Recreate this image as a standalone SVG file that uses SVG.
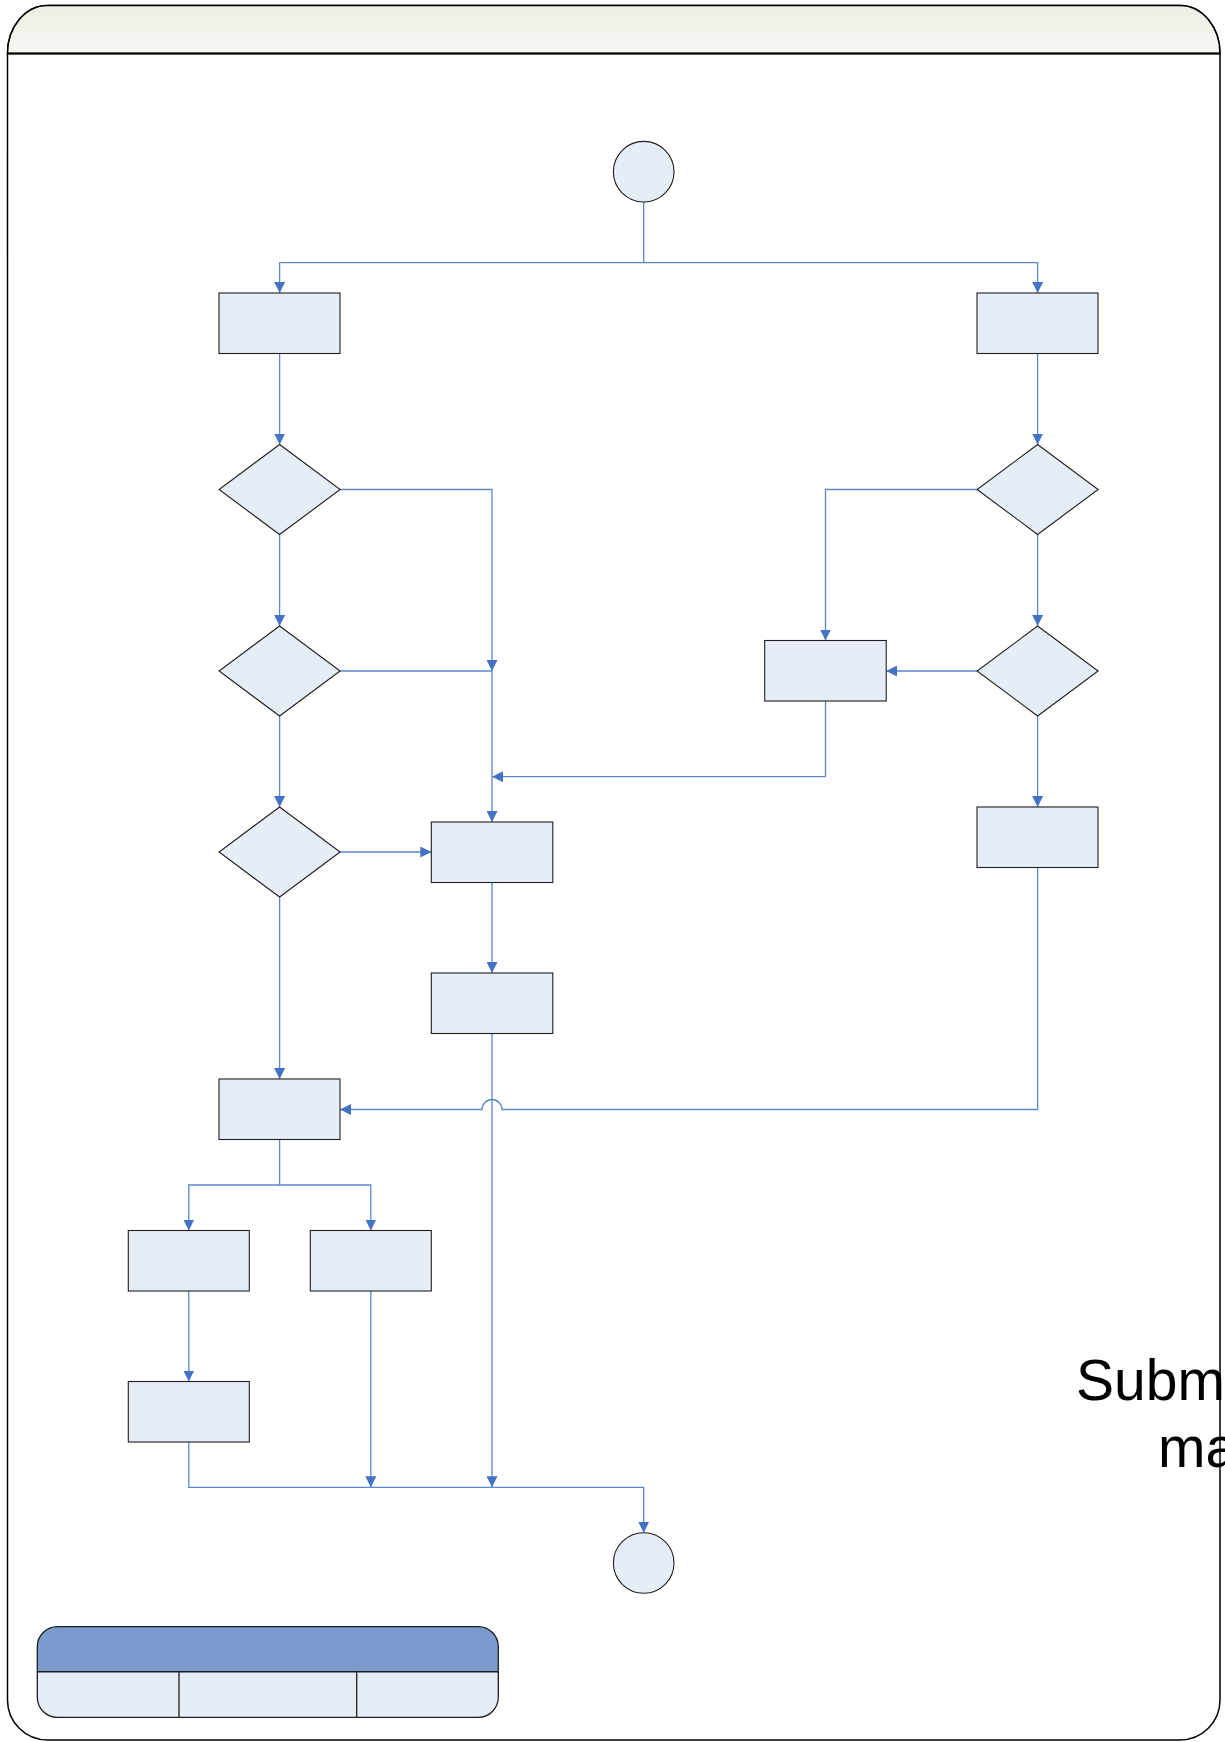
<svg xmlns="http://www.w3.org/2000/svg" width="1225" height="1742" viewBox="0 0 1225 1742">
  <defs>
    <linearGradient id="hdrGrad" x1="0" y1="0" x2="0" y2="1">
      <stop offset="0" stop-color="#ECEDE3"/>
      <stop offset="1" stop-color="#F8F8F4"/>
    </linearGradient>
    <marker id="arrow" viewBox="0 0 10 10" refX="10" refY="5" markerUnits="userSpaceOnUse" markerWidth="11" markerHeight="11" orient="auto">
      <path d="M0,0 L10,5 L0,10 z" fill="#4472C4"/>
    </marker>
    <style>
      .node { fill: #E7EDF7; stroke: #1E1E1E; stroke-width: 1.1; }
      .conn { fill: none; stroke: #5B87CE; stroke-width: 1.3; }
      .arr { marker-end: url(#arrow); }
      .frame { fill: #FFFFFF; stroke: #000000; stroke-width: 1.5; }
      .big { font-family: "Liberation Sans", Arial, sans-serif; font-size: 57px; fill: #000000; }
    </style>
  </defs>

  <!-- page frame with header band -->
  <g id="frame">
    <path class="frame" d="M7.5,53.5 A40,48 0 0 1 47.5,5.5 H1180 A40,48 0 0 1 1220,53.5 V1700 A40,40 0 0 1 1180,1740 H47.5 A40,40 0 0 1 7.5,1700 Z"/>
    <path d="M7.5,53.5 A40,48 0 0 1 47.5,5.5 H1180 A40,48 0 0 1 1220,53.5 Z" fill="url(#hdrGrad)" stroke="#000000" stroke-width="1.5"/>
    <line x1="7.5" y1="53.5" x2="1220" y2="53.5" stroke="#000000" stroke-width="2.2"/>
  </g>

  <!-- connectors -->
  <g id="connectors">
    <path class="conn arr" d="M643.7,202 V262.7 H279.6 V293"/>
    <path class="conn arr" d="M643.7,262.7 H1037.6 V293"/>
    <path class="conn arr" d="M279.6,353.5 V444.5"/>
    <path class="conn arr" d="M1037.6,353.5 V444.5"/>
    <path class="conn arr" d="M279.6,534.5 V626"/>
    <path class="conn arr" d="M279.6,716 V807"/>
    <path class="conn arr" d="M279.6,897 V1079"/>
    <path class="conn arr" d="M340.1,489.5 H492 V671"/>
    <path class="conn arr" d="M340.1,671 H492 V822"/>
    <path class="conn arr" d="M340.1,852 H431.3"/>
    <path class="conn arr" d="M977.1,489.5 H825.5 V640.5"/>
    <path class="conn arr" d="M1037.6,534.5 V626"/>
    <path class="conn arr" d="M977.1,671 H886.2"/>
    <path class="conn arr" d="M825.5,701 V776.7 H492"/>
    <path class="conn arr" d="M1037.6,716 V807"/>
    <path class="conn arr" d="M492,882.5 V973"/>
    <path class="conn arr" d="M1037.6,867.5 V1109.5 H502 A10,10 0 0 0 482,1109.5 H340.1"/>
    <path class="conn arr" d="M279.6,1139.5 V1185 H188.8 V1230.5"/>
    <path class="conn arr" d="M279.6,1185 H370.8 V1230.5"/>
    <path class="conn arr" d="M188.8,1291 V1381.5"/>
    <path class="conn arr" d="M188.8,1442 V1487.3 H643.7 V1532.7"/>
    <path class="conn arr" d="M370.8,1291 V1487.3"/>
    <path class="conn arr" d="M492,1033.5 V1487.3"/>
  </g>

  <!-- start / end -->
  <g id="start"><circle class="node" cx="643.7" cy="171.7" r="30.3"/></g>
  <g id="end"><circle class="node" cx="643.7" cy="1563" r="30.3"/></g>

  <!-- left branch -->
  <g id="boxA"><rect class="node" x="219" y="293" width="121" height="60.5"/></g>
  <g id="decisionL1"><path class="node" d="M279.6,444.5 L340.1,489.5 L279.6,534.5 L219.1,489.5 Z"/></g>
  <g id="decisionL2"><path class="node" d="M279.6,626 L340.1,671 L279.6,716 L219.1,671 Z"/></g>
  <g id="decisionL3"><path class="node" d="M279.6,807 L340.1,852 L279.6,897 L219.1,852 Z"/></g>

  <!-- right branch -->
  <g id="boxB"><rect class="node" x="977" y="293" width="121" height="60.5"/></g>
  <g id="decisionR1"><path class="node" d="M1037.6,444.5 L1098.1,489.5 L1037.6,534.5 L977.1,489.5 Z"/></g>
  <g id="decisionR2"><path class="node" d="M1037.6,626 L1098.1,671 L1037.6,716 L977.1,671 Z"/></g>
  <g id="boxC"><rect class="node" x="764.7" y="640.5" width="121.5" height="60.5"/></g>
  <g id="boxE"><rect class="node" x="977" y="807" width="121" height="60.5"/></g>

  <!-- middle column -->
  <g id="boxF"><rect class="node" x="431.3" y="822" width="121.5" height="60.5"/></g>
  <g id="boxG"><rect class="node" x="431.3" y="973" width="121.5" height="60.5"/></g>

  <!-- lower part -->
  <g id="boxH"><rect class="node" x="219" y="1079" width="121" height="60.5"/></g>
  <g id="boxI"><rect class="node" x="128.3" y="1230.5" width="121" height="60.5"/></g>
  <g id="boxJ"><rect class="node" x="310.3" y="1230.5" width="121" height="60.5"/></g>
  <g id="boxK"><rect class="node" x="128.3" y="1381.5" width="121" height="60.5"/></g>

  <!-- legend table -->
  <g id="legend">
    <path d="M37.3,1671.7 V1646.7 A20,20 0 0 1 57.3,1626.7 H478.3 A20,20 0 0 1 498.3,1646.7 V1671.7 Z" fill="#7B9BCC"/>
    <path d="M37.3,1671.7 H498.3 V1697.3 A20,20 0 0 1 478.3,1717.3 H57.3 A20,20 0 0 1 37.3,1697.3 Z" fill="#E7EDF7"/>
    <rect x="37.3" y="1626.7" width="461" height="90.6" rx="20" ry="20" fill="none" stroke="#1E1E1E" stroke-width="1.3"/>
    <line x1="37.3" y1="1671.7" x2="498.3" y2="1671.7" stroke="#1E1E1E" stroke-width="1.6"/>
    <line x1="179" y1="1671.7" x2="179" y2="1717.3" stroke="#1E1E1E" stroke-width="1.3"/>
    <line x1="356.7" y1="1671.7" x2="356.7" y2="1717.3" stroke="#1E1E1E" stroke-width="1.3"/>
  </g>

  <!-- side caption, running past the page edge -->
  <g id="caption">
    <text class="big" x="1076" y="1400">Subm</text>
    <text class="big" x="1158" y="1467">ma</text>
  </g>
</svg>
